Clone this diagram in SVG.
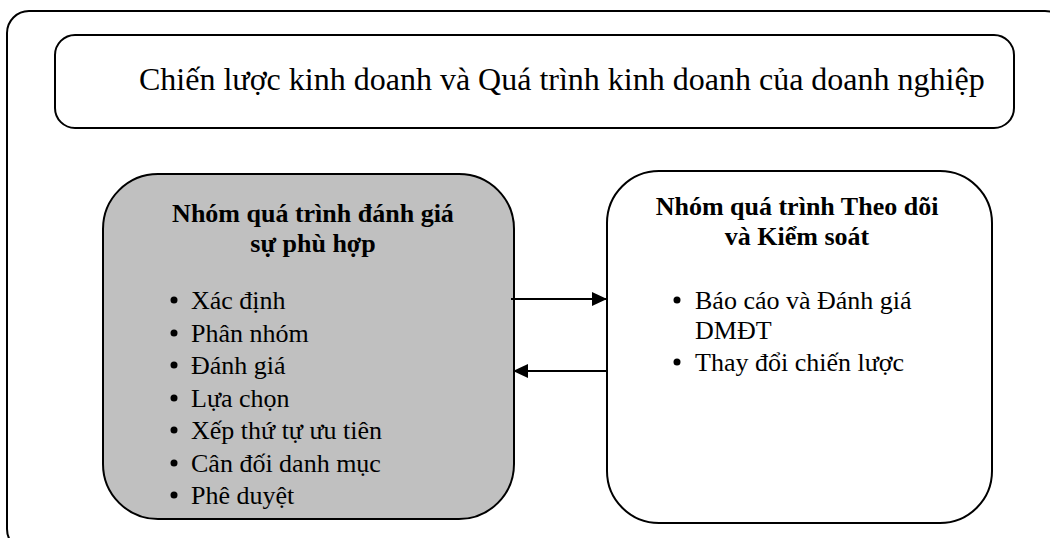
<svg xmlns="http://www.w3.org/2000/svg" width="1050" height="538" viewBox="0 0 1050 538">
  <defs>
    <marker id="arrow" markerWidth="15" markerHeight="14" refX="15" refY="7" orient="auto" markerUnits="userSpaceOnUse">
      <path d="M0,0 L15,7 L0,14 Z" fill="#000"/>
    </marker>
  </defs>
  <style>
    .box { fill: #fff; stroke: #000; stroke-width: 2; }
    .grey { fill: #c0c0c0; }
    .txt { font-family: "Liberation Serif", "Times New Roman", serif; fill: #000; }
    .title { font-size: 26px; font-weight: bold; text-anchor: middle; }
    .item { font-size: 26px; }
    .conn { stroke: #000; stroke-width: 2; fill: none; }
  </style>
  <rect width="1050" height="538" fill="#fff"/>

  <!-- outer frame -->
  <rect id="frame" class="box" x="7" y="11" width="1060" height="540" rx="22" ry="22"/>

  <!-- top box -->
  <g id="strategy">
    <rect class="box" x="55" y="35" width="959" height="93" rx="20" ry="20"/>
    <text class="txt" x="139" y="90" font-size="32">Chiến lược kinh doanh và Quá trình kinh doanh của doanh nghiệp</text>
  </g>

  <!-- left box -->
  <g id="fit-assessment">
    <rect class="box grey" x="103" y="174" width="411" height="345" rx="55" ry="55"/>
    <text class="txt title" x="313" y="222">Nhóm quá trình đánh giá</text>
    <text class="txt title" x="313" y="252">sự phù hợp</text>
    <g class="txt item">
      <circle cx="174" cy="300" r="3.5"/><text x="191" y="309">Xác định</text>
      <circle cx="174" cy="333" r="3.5"/><text x="191" y="342">Phân nhóm</text>
      <circle cx="174" cy="365" r="3.5"/><text x="191" y="374">Đánh giá</text>
      <circle cx="174" cy="398" r="3.5"/><text x="191" y="407">Lựa chọn</text>
      <circle cx="174" cy="430" r="3.5"/><text x="191" y="439">Xếp thứ tự ưu tiên</text>
      <circle cx="174" cy="463" r="3.5"/><text x="191" y="472">Cân đối danh mục</text>
      <circle cx="174" cy="495" r="3.5"/><text x="191" y="504">Phê duyệt</text>
    </g>
  </g>

  <!-- right box -->
  <g id="monitoring">
    <rect class="box" x="607" y="171" width="385" height="352" rx="52" ry="52"/>
    <text class="txt title" x="797" y="215">Nhóm quá trình Theo dõi</text>
    <text class="txt title" x="797" y="245">và Kiểm soát</text>
    <g class="txt item">
      <circle cx="677" cy="300" r="3.5"/><text x="695" y="309">Báo cáo và Đánh giá</text>
      <text x="695" y="339">DMĐT</text>
      <circle cx="677" cy="362" r="3.5"/><text x="695" y="371">Thay đổi chiến lược</text>
    </g>
  </g>

  <!-- connectors -->
  <g id="connectors">
    <line class="conn" x1="511" y1="299" x2="607" y2="299" marker-end="url(#arrow)"/>
    <line class="conn" x1="607" y1="371" x2="513" y2="371" marker-end="url(#arrow)"/>
  </g>
</svg>
